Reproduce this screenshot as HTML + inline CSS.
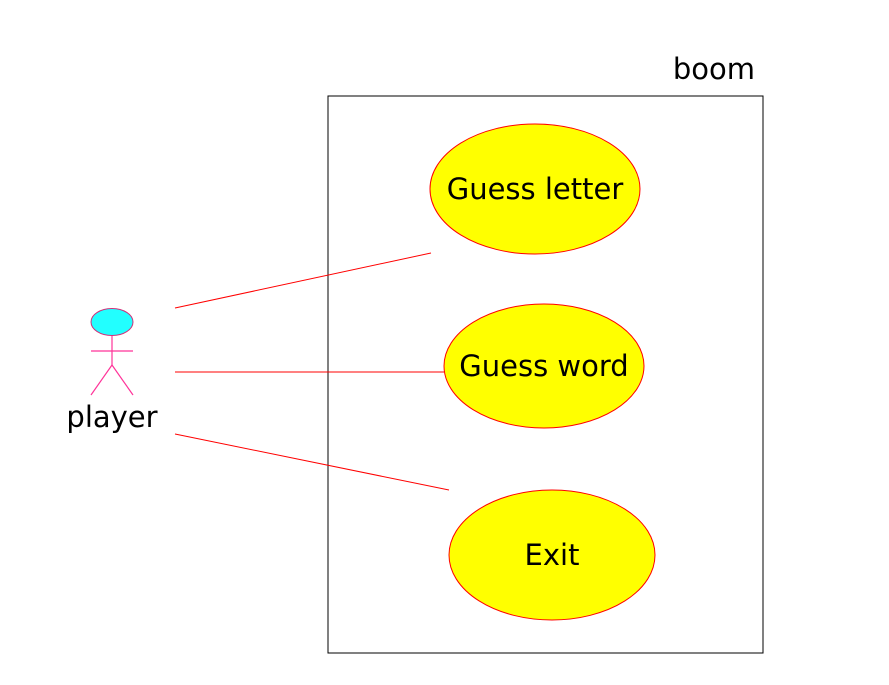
<!DOCTYPE html>
<html><head><meta charset="utf-8"><style>html,body{margin:0;padding:0;background:#fff}</style></head>
<body>
<svg width="889" height="680" xmlns="http://www.w3.org/2000/svg" font-family="DejaVu Sans, Liberation Sans, sans-serif">
<rect x="328" y="96" width="435" height="557" fill="none" stroke="#000" stroke-width="1"/>
<text x="755" y="79" font-size="29" text-anchor="end" fill="#000">boom</text>
<ellipse cx="535" cy="189" rx="105" ry="65" fill="#ffff00" stroke="#ff0000"/>
<text x="535" y="199" font-size="29" text-anchor="middle">Guess letter</text>
<ellipse cx="544" cy="366" rx="100" ry="62" fill="#ffff00" stroke="#ff0000"/>
<text x="544" y="376" font-size="29" text-anchor="middle">Guess word</text>
<ellipse cx="552" cy="555" rx="103" ry="65" fill="#ffff00" stroke="#ff0000"/>
<text x="552" y="565" font-size="29" text-anchor="middle">Exit</text>
<line x1="175" y1="308" x2="431" y2="253" stroke="#ff0000"/>
<line x1="175" y1="372" x2="444" y2="372" stroke="#ff0000"/>
<line x1="175" y1="434" x2="449" y2="490" stroke="#ff0000"/>
<ellipse cx="112" cy="322" rx="21" ry="13.5" fill="#22ffff" stroke="#d0307a"/>
<g stroke="#ff3399" stroke-width="1.2" fill="none">
<line x1="112" y1="336" x2="112" y2="365"/>
<line x1="91" y1="351" x2="133" y2="351"/>
<line x1="112" y1="365" x2="91" y2="395"/>
<line x1="112" y1="365" x2="133" y2="395"/>
</g>
<text x="112" y="427" font-size="29" text-anchor="middle">player</text>
</svg>
</body></html>
